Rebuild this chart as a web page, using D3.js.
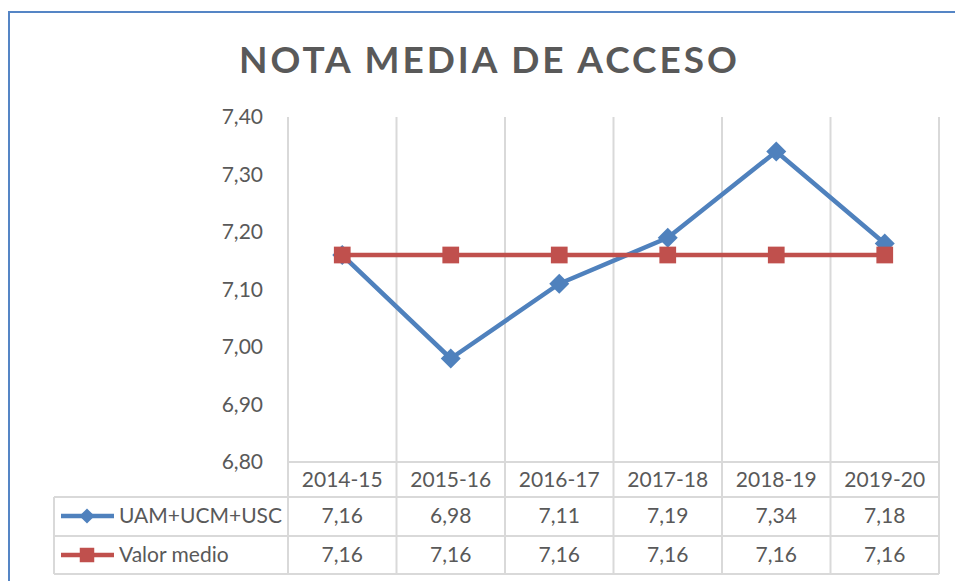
<!DOCTYPE html>
<html>
<head>
<meta charset="utf-8">
<script src="https://cdn.jsdelivr.net/npm/d3@7"></script>
<style>
  body { margin: 0; background: #fff; }
  svg { display: block; font-family: Lato, "Noto Sans", sans-serif; }
</style>
</head>
<body>
<div id="chart"></div>
<script>
// data
var categories = ["2014-15", "2015-16", "2016-17", "2017-18", "2018-19", "2019-20"];
var uamValues = [7.16, 6.98, 7.11, 7.19, 7.34, 7.18];
var medioValues = [7.16, 7.16, 7.16, 7.16, 7.16, 7.16];
var seriesNames = ["UAM+UCM+USC", "Valor medio"];
var yTicks = [6.8, 6.9, 7.0, 7.1, 7.2, 7.3, 7.4];
var title = "NOTA MEDIA DE ACCESO";

var width = 955, height = 581;
var textColor = "#595959", gridColor = "#d9d9d9";
var blue = "#4f81bd", red = "#c0504d";

var svg = d3.select("#chart").append("svg")
    .attr("width", width)
    .attr("height", height);

// chart border (only top and left visible)
svg.append("rect")
    .attr("x", 9).attr("y", 12)
    .attr("width", 980).attr("height", 620)
    .attr("fill", "none")
    .attr("stroke", "#5585c5")
    .attr("stroke-width", 2);

svg.append("text")
    .attr("x", 239).attr("y", 73)
    .attr("textLength", 498)
    .attr("lengthAdjust", "spacing")
    .attr("fill", textColor)
    .attr("font-size", 37)
    .attr("font-weight", "bold")
    .text(title);

var plot = { left: 288, right: 939, top: 117, bottom: 462 };

var x = d3.scaleBand()
    .domain(categories)
    .range([plot.left, plot.right])
    .padding(0);

var y = d3.scaleLinear()
    .domain([d3.min(yTicks), d3.max(yTicks)])
    .range([plot.bottom, plot.top]);

var es = d3.formatLocale({ decimal: ",", thousands: ".", grouping: [3], currency: ["", " €"] });
var fmt = es.format(".2f");

// vertical category lines, running down through the table
var rowTops = [462, 497, 536, 574];
var bounds = categories.map(function (c) { return x(c); }).concat([plot.right]);
svg.append("g").selectAll("line")
    .data(bounds)
    .enter().append("line")
    .attr("x1", function (d) { return d; })
    .attr("x2", function (d) { return d; })
    .attr("y1", plot.top)
    .attr("y2", rowTops[3])
    .attr("stroke", gridColor)
    .attr("stroke-width", 2);

// table horizontal lines
var tableLeft = 54;
svg.append("line")
    .attr("x1", plot.left).attr("x2", plot.right)
    .attr("y1", rowTops[0]).attr("y2", rowTops[0])
    .attr("stroke", gridColor).attr("stroke-width", 2);
svg.append("g").selectAll("line")
    .data(rowTops.slice(1))
    .enter().append("line")
    .attr("x1", tableLeft).attr("x2", plot.right)
    .attr("y1", function (d) { return d; })
    .attr("y2", function (d) { return d; })
    .attr("stroke", gridColor).attr("stroke-width", 2);
svg.append("line")
    .attr("x1", tableLeft).attr("x2", tableLeft)
    .attr("y1", rowTops[1]).attr("y2", rowTops[3])
    .attr("stroke", gridColor).attr("stroke-width", 2);

// y axis
var yAxis = svg.append("g")
    .attr("transform", "translate(" + (plot.left - 22) + ",0)")
    .call(d3.axisLeft(y).tickValues(yTicks).tickFormat(fmt).tickSize(0));
yAxis.select(".domain").remove();
yAxis.selectAll("text")
    .attr("fill", textColor)
    .attr("font-size", 21)
    .attr("font-family", "Lato, sans-serif");

// category header row
svg.append("g").selectAll("text")
    .data(categories)
    .enter().append("text")
    .attr("x", function (d) { return x(d) + x.bandwidth() / 2; })
    .attr("y", 480)
    .attr("dy", "0.35em")
    .attr("text-anchor", "middle")
    .attr("fill", textColor)
    .attr("font-size", 21)
    .text(function (d) { return d; });

// diamond = square turned 45 degrees
var series = [
    { name: seriesNames[0], values: uamValues, color: blue, rot: 45, size: 200, legendSize: 115, rowY: 516 },
    { name: seriesNames[1], values: medioValues, color: red, rot: 0, size: 280, legendSize: 210, rowY: 555 }
];

var line = d3.line()
    .x(function (d, i) { return x(categories[i]) + x.bandwidth() / 2; })
    .y(function (d) { return y(d); });

series.forEach(function (s) {
    var g = svg.append("g");
    g.append("path")
        .datum(s.values)
        .attr("d", line)
        .attr("fill", "none")
        .attr("stroke", s.color)
        .attr("stroke-width", 4.5)
        .attr("stroke-linejoin", "round");
    g.selectAll(".pt")
        .data(s.values)
        .enter().append("path")
        .attr("class", "pt")
        .attr("transform", function (d, i) {
            return "translate(" + (x(categories[i]) + x.bandwidth() / 2) + "," + y(d) + ") rotate(" + s.rot + ")";
        })
        .attr("d", d3.symbol().type(d3.symbolSquare).size(s.size))
        .attr("fill", s.color);
});

// table rows
series.forEach(function (s) {
    var row = svg.append("g");
    row.append("line")
        .attr("x1", 61).attr("x2", 114)
        .attr("y1", s.rowY).attr("y2", s.rowY)
        .attr("stroke", s.color)
        .attr("stroke-width", 4.5);
    row.append("path")
        .attr("transform", "translate(87," + s.rowY + ") rotate(" + s.rot + ")")
        .attr("d", d3.symbol().type(d3.symbolSquare).size(s.legendSize))
        .attr("fill", s.color);
    row.append("text")
        .attr("x", 119).attr("y", s.rowY)
        .attr("dy", "0.35em")
        .attr("fill", textColor)
        .attr("font-size", 21)
        .text(s.name);
    row.selectAll(".val")
        .data(s.values)
        .enter().append("text")
        .attr("class", "val")
        .attr("x", function (d, i) { return x(categories[i]) + x.bandwidth() / 2; })
        .attr("y", s.rowY)
        .attr("dy", "0.35em")
        .attr("text-anchor", "middle")
        .attr("fill", textColor)
        .attr("font-size", 21)
        .text(function (d) { return fmt(d); });
});
</script>
</body>
</html>
